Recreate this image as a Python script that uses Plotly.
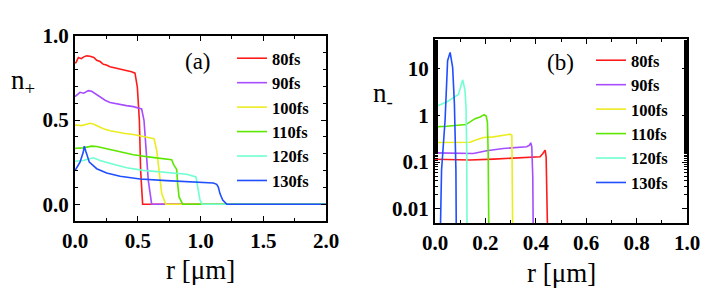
import plotly.graph_objects as go

labels = ["80fs", "90fs", "100fs", "110fs", "120fs", "130fs"]
colors = ["#ff1a1a", "#a64dff", "#ecec22", "#5ce600", "#70ffd0", "#1f4fff"]

# ---- panel (a): n+ vs r ----
ra_80 = [0.0, 0.008, 0.027, 0.05, 0.07, 0.093, 0.12, 0.15, 0.173, 0.2, 0.226, 0.25, 0.279, 0.31, 0.359, 0.39, 0.412, 0.45, 0.478, 0.497, 0.513, 0.523, 0.539, 2.0]
na_80 = [0.84, 0.842, 0.872, 0.865, 0.876, 0.882, 0.88, 0.872, 0.856, 0.848, 0.832, 0.828, 0.817, 0.812, 0.803, 0.8, 0.793, 0.787, 0.779, 0.694, 0.497, 0.201, 0.0, 0.0]
ra_90 = [0.0, 0.008, 0.04, 0.07, 0.106, 0.133, 0.16, 0.199, 0.24, 0.279, 0.32, 0.359, 0.41, 0.465, 0.531, 0.55, 0.571, 0.584, 0.611, 2.0]
na_90 = [0.64, 0.645, 0.665, 0.66, 0.675, 0.671, 0.658, 0.635, 0.618, 0.605, 0.598, 0.592, 0.586, 0.58, 0.566, 0.497, 0.3, 0.142, 0.0, 0.0]
ra_100 = [0.0, 0.008, 0.053, 0.09, 0.12, 0.146, 0.19, 0.226, 0.28, 0.332, 0.4, 0.465, 0.571, 0.63, 0.651, 0.672, 0.691, 0.723, 2.0]
na_100 = [0.47, 0.471, 0.467, 0.474, 0.481, 0.477, 0.462, 0.448, 0.437, 0.428, 0.42, 0.414, 0.398, 0.389, 0.32, 0.201, 0.063, 0.0, 0.0]
ra_110 = [0.0, 0.008, 0.066, 0.133, 0.173, 0.252, 0.359, 0.465, 0.598, 0.704, 0.77, 0.789, 0.81, 0.818, 0.829, 0.858, 2.0]
na_110 = [0.33, 0.333, 0.335, 0.345, 0.343, 0.329, 0.31, 0.294, 0.28, 0.27, 0.264, 0.231, 0.207, 0.122, 0.043, 0.0, 0.0]
ra_120 = [0.0, 0.008, 0.066, 0.146, 0.199, 0.305, 0.412, 0.544, 0.677, 0.81, 0.89, 0.964, 0.982, 0.996, 1.014, 2.0]
na_120 = [0.255, 0.256, 0.26, 0.276, 0.26, 0.237, 0.217, 0.201, 0.191, 0.181, 0.178, 0.162, 0.083, 0.024, 0.0, 0.0]
ra_130 = [0.0, 0.008, 0.04, 0.066, 0.074, 0.088, 0.114, 0.173, 0.252, 0.359, 0.518, 0.73, 0.943, 1.102, 1.129, 1.142, 1.155, 1.177, 1.209, 2.0]
na_130 = [0.2, 0.211, 0.25, 0.31, 0.345, 0.31, 0.25, 0.211, 0.185, 0.166, 0.15, 0.14, 0.132, 0.126, 0.118, 0.102, 0.063, 0.024, 0.0, 0.0]

# ---- panel (b): n- vs r (log) ----
rb_80 = [0.0, 0.004, 0.099, 0.139, 0.232, 0.338, 0.417, 0.428, 0.437, 0.441, 0.446, 0.452]
nb_80 = [0.115, 0.115, 0.115, 0.111, 0.116, 0.124, 0.13, 0.153, 0.181, 0.13, 0.03, 0.0001]
rb_90 = [0.0, 0.004, 0.099, 0.152, 0.205, 0.271, 0.364, 0.375, 0.38, 0.384, 0.388, 0.392]
nb_90 = [0.158, 0.158, 0.158, 0.153, 0.175, 0.196, 0.213, 0.231, 0.259, 0.213, 0.049, 0.0001]
rb_100 = [0.0, 0.004, 0.073, 0.139, 0.159, 0.192, 0.232, 0.271, 0.298, 0.305, 0.307, 0.311]
nb_100 = [0.263, 0.263, 0.266, 0.266, 0.294, 0.336, 0.347, 0.37, 0.395, 0.376, 0.153, 0.0001]
rb_110 = [0.0, 0.004, 0.046, 0.123, 0.139, 0.159, 0.179, 0.195, 0.203, 0.208, 0.211, 0.216]
nb_110 = [0.565, 0.565, 0.584, 0.634, 0.721, 0.85, 0.92, 1.035, 0.966, 0.721, 0.153, 0.0001]
rb_120 = [0.0, 0.004, 0.046, 0.093, 0.11, 0.119, 0.123, 0.126, 0.128]
nb_120 = [1.55, 1.55, 1.92, 2.79, 5.73, 3.4, 1.5, 0.153, 0.0001]
rb_130 = [0.016, 0.026, 0.04, 0.05, 0.06, 0.07, 0.077, 0.083, 0.086]
nb_130 = [0.0001, 0.068, 0.783, 14.7, 22.1, 10.6, 1.77, 0.068, 0.0001]

xa = [ra_80, ra_90, ra_100, ra_110, ra_120, ra_130]
ya = [na_80, na_90, na_100, na_110, na_120, na_130]
xb = [rb_80, rb_90, rb_100, rb_110, rb_120, rb_130]
yb = [nb_80, nb_90, nb_100, nb_110, nb_120, nb_130]

# page has an 8px body margin; work in window pixels and convert
OFF = 8
W, H = 722 - OFF, 294 - OFF
def px(x):
    return (x - OFF) / W
def py(y):
    return 1 - (y - OFF) / H

fig = go.Figure()
for i in range(6):
    fig.add_trace(go.Scatter(x=xa[i], y=ya[i], mode="lines", name=labels[i],
                             line=dict(color=colors[i], width=1.6),
                             xaxis="x", yaxis="y", legend="legend"))
for i in range(6):
    fig.add_trace(go.Scatter(x=xb[i], y=yb[i], mode="lines", name=labels[i],
                             line=dict(color=colors[i], width=1.6),
                             xaxis="x2", yaxis="y2", legend="legend2"))

serif = "Liberation Serif, Times New Roman, Times, serif"
tickfont = dict(family=serif, size=21, color="black", weight="bold")
common = dict(showline=True, linecolor="black", linewidth=2, mirror="allticks",
              ticks="inside", ticklen=5, tickwidth=1.2, tickcolor="black",
              showgrid=False, zeroline=False, tickfont=tickfont, automargin=False)

fig.update_layout(
    template="none",
    width=W, height=H,
    margin=dict(l=0, r=0, t=0, b=0, autoexpand=False),
    paper_bgcolor="white", plot_bgcolor="white",
    font=dict(family=serif, color="black"),
    xaxis=dict(domain=[px(75), px(326)], range=[0, 2.0], tickvals=[0, 0.5, 1.0, 1.5, 2.0],
               ticktext=["0.0", "0.5", "1.0", "1.5", "2.0"],
               minor=dict(ticks="inside", ticklen=3, dtick=0.25, tickcolor="black"),
               anchor="y", **common),
    yaxis=dict(domain=[py(221), py(36)], range=[-0.1, 1.0], tickvals=[0, 0.5, 1.0],
               ticktext=["0.0", "0.5", "1.0"],
               minor=dict(ticks="inside", ticklen=3, dtick=0.1, tickcolor="black"),
               anchor="x", **common),
    xaxis2=dict(domain=[px(435), px(687)], range=[0, 1.0], tickvals=[0, 0.2, 0.4, 0.6, 0.8, 1.0],
                ticktext=["0.0", "0.2", "0.4", "0.6", "0.8", "1.0"],
                minor=dict(ticks="inside", ticklen=3, dtick=0.1, tickcolor="black"),
                anchor="y2", **common),
    yaxis2=dict(domain=[py(223), py(39)], type="log", range=[-2.3, 1.63],
                tickvals=[0.01, 0.1, 1, 10], ticktext=["0.01", "0.1", "1", "10"],
                minor=dict(ticks="inside", ticklen=3, tickcolor="black"),
                anchor="x2", **common),
    legend=dict(x=px(232), y=py(41), xanchor="left", yanchor="top",
                font=dict(family=serif, size=16.5, color="black", weight="bold"),
                bgcolor="rgba(0,0,0,0)", borderwidth=0, tracegroupgap=0),
    legend2=dict(x=px(591), y=py(43), xanchor="left", yanchor="top",
                 font=dict(family=serif, size=16.5, color="black", weight="bold"),
                 bgcolor="rgba(0,0,0,0)", borderwidth=0, tracegroupgap=0),
)

annots = [
    dict(x=px(198), y=py(62), text="(a)", font=dict(family=serif, size=23, color="black")),
    dict(x=px(560), y=py(63), text="(b)", font=dict(family=serif, size=23, color="black")),
    dict(x=px(9), y=py(82), text="n<sub>+</sub>", xanchor="left", font=dict(family=serif, size=27, color="black")),
    dict(x=px(371), y=py(95), text="n<sub>-</sub>", xanchor="left", font=dict(family=serif, size=27, color="black")),
    dict(x=px(200), y=py(270), text="r [\u03bcm]", font=dict(family=serif, size=27, color="black")),
    dict(x=px(561), y=py(273), text="r [\u03bcm]", font=dict(family=serif, size=27, color="black")),
]
for a in annots:
    a.update(xref="paper", yref="paper", showarrow=False)
    if "xanchor" not in a:
        a["xanchor"] = "center"
    a["yanchor"] = "middle"
    fig.add_annotation(**a)

fig.write_html("out.html")
